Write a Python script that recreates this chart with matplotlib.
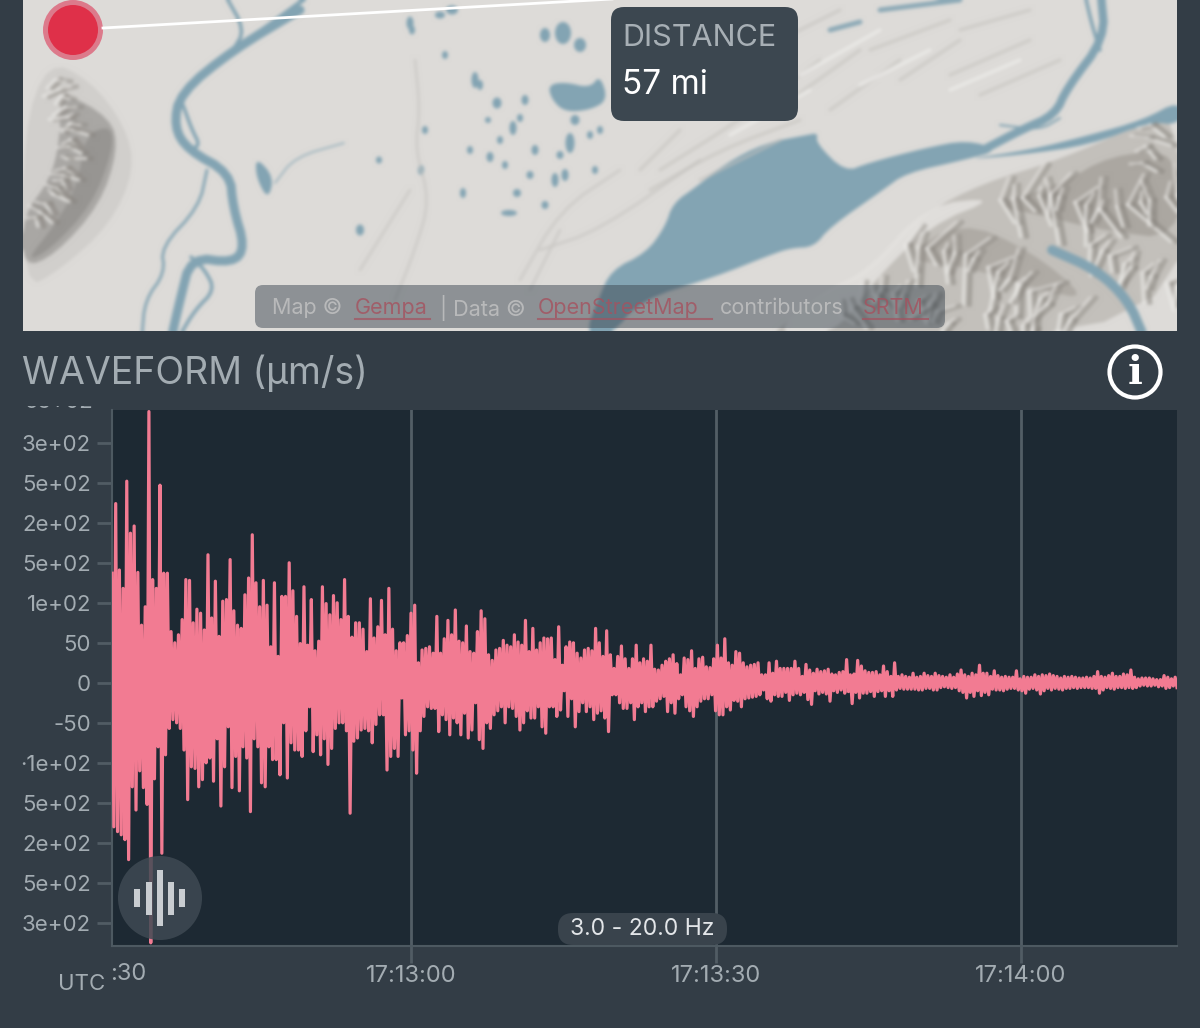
import matplotlib
matplotlib.use("Agg")
import matplotlib.pyplot as plt
import numpy as np
from matplotlib.patches import Circle, FancyBboxPatch, Polygon, Rectangle, Ellipse

plt.rcParams['font.family'] = ['Inter', 'DejaVu Sans']

# waveform, upper and lower swings in um/s, read left to right off the picture
peaks = [137,224,141,118,252,187,196,138,72,95,339,129,118,247,137,137,64,50,60,79,
         129,128,75,92,87,66,160,81,127,58,102,104,154,90,72,68,110,131,185,125,
         95,128,97,45,125,33,108,108,150,115,83,49,120,47,104,40,52,120,99,85,
         109,100,79,129,83,57,75,75,67,39,105,56,70,103,60,118,67,40,50,50,
         59,87,97,25,
         41,43,45,37,83,37,55,78,60,91,52,50,71,39,37,64,90,80,35,28,
         41,43,53,47,45,60,51,47,78,39,68,41,50,56,55,56,29,70,22,45,
         51,50,37,31,41,43,40,68,50,33,65,35,18,33,46,30,18,30,47,25,
         30,27,47,17,16,22,27,30,35,24,10,31,29,40,18,30,32,20,19,30,
         47,31,55,25,22,39,37,25,20,22,23,25,10,10,25,12,27,18,18,18,
         18,27,18,
         8,23,16,12,17,14,15,17,11,10,13,14,29,10,11,28,21,15,13,13,
         14,10,21,14,8,25,8,10,8,7,12,7,8,12,9,8,12,9,8,7,
         10,7,11,16,10,8,12,10,22,12,12,8,15,9,7,8,7,7,15,5,
         8,7,7,10,8,10,9,11,9,8,6,8,7,8,7,6,6,7,6,8,
         14,8,7,9,12,8,8,11,10,16,7,5,6,6,6,5,4,4,9,7,
         5,7]
troughs = [-180,-186,-190,-196,-221,-130,-159,-110,-131,-152,-325,-120,-80,-213,-90,-57,-46,-50,-57,-84,
           -146,-105,-107,-130,-121,-100,-94,-123,-70,-154,-105,-55,-131,-92,-135,-80,-94,-161,-70,-80,
           -125,-130,-80,-96,-96,-115,-50,-119,-75,-84,-84,-92,-60,-30,-86,-65,-90,-70,-102,-82,
           -57,-50,-50,-60,-163,-73,-69,-59,-57,-60,-75,-52,-40,-40,-109,-92,-82,-92,-19,-65,
           -60,-84,-113,-60,
           -42,-30,-32,-32,-61,-40,-46,-65,-44,-50,-65,-38,-69,-59,-25,-71,-82,-50,-57,-40,
           -35,-30,-50,-30,-32,-42,-59,-50,-35,-44,-44,-30,-55,-63,-30,-30,-42,-34,-10,-42,
           -20,-55,-36,-25,-36,-30,-46,-38,-35,-44,-61,-15,-15,-25,-32,-32,-25,-46,-30,-25,
           -36,-30,-30,-23,-20,-17,-36,-25,-38,-20,-15,-30,-35,-42,-30,-23,-20,-20,-15,-35,
           -40,-40,-30,-34,-22,-23,-30,-20,-19,-18,-17,-15,-9,-20,-23,-15,-17,-17,-12,-22,
           -15,-13,-15,
           -12,-21,-27,-10,-14,-12,-14,-23,-10,-12,-9,-13,-11,-26,-12,-19,-13,-13,-11,-17,
           -11,-10,-17,-10,-17,-9,-7,-8,-8,-8,-8,-9,-9,-7,-7,-9,-9,-6,-5,-6,
           -7,-6,-10,-12,-19,-12,-17,-10,-16,-12,-15,-8,-9,-9,-10,-8,-7,-7,-9,-10,
           -13,-8,-7,-9,-14,-10,-7,-9,-7,-8,-9,-7,-7,-6,-7,-6,-6,-6,-7,-7,
           -13,-9,-6,-7,-8,-6,-6,-7,-6,-7,-6,-4,-3,-4,-4,-3,-5,-4,-7,-6,
           -4,-6]

y_ticks = [300, 250, 200, 150, 100, 50, 0, -50, -100, -150, -200, -250, -300]
y_labels = ['3e+02', '5e+02', '2e+02', '5e+02', '1e+02', '50', '0', '-50', '·1e+02',
            '5e+02', '2e+02', '5e+02', '3e+02']
x_ticks = [30, 60, 90]   # seconds after 17:12:30
x_labels = ['17:13:00', '17:13:30', '17:14:00']

page = '#333d46'
plot_bg = '#1d2933'
pink = '#f27b92'
label_col = '#a3acb2'
water = '#83a4b3'
land = '#dddbd8'

# the map backdrop is drawn apart, softened, and pasted in as an image
map_fig = plt.figure(figsize=(11.54, 3.31), dpi=100, facecolor=land)
mp = map_fig.add_axes([0, 0, 1, 1])
mp.set_xlim(23, 1177)
mp.set_ylim(331, 0)
mp.axis('off')

def smooth(pts, closed=False, rounds=2):
    pts = np.array(pts, dtype=float)
    for _ in range(rounds):
        nxt = np.roll(pts, -1, axis=0) if closed else pts[1:]
        cur = pts if closed else pts[:-1]
        q = 0.75 * cur + 0.25 * nxt
        r = 0.25 * cur + 0.75 * nxt
        mid = np.empty((2 * len(cur), 2))
        mid[0::2] = q
        mid[1::2] = r
        pts = mid if closed else np.vstack([pts[0], mid, pts[-1]])
    return pts

def shape(pts, col, alpha=1.0):
    mp.add_patch(Polygon(smooth(pts, closed=True), closed=True, fc=col, ec='none', alpha=alpha))

def stroke(pts, col, lw, alpha=1.0):
    s = smooth(pts)
    mp.plot(s[:, 0], s[:, 1], color=col, lw=lw, alpha=alpha, solid_capstyle='round')

# uneven light and shaded spurs along a ridge line, for the hill shading
def ridge(pts, reach=(24, 38, 14, 30, 20, 44, 12), step=(13, 9, 17, 11), lean=(0.5, 0.1, 0.8, 0.3, -0.2)):
    pts = np.array(pts, dtype=float)
    k = 0
    for a, b in zip(pts[:-1], pts[1:]):
        seg = np.hypot(*(b - a))
        tang = (b - a) / seg
        norm = np.array([-tang[1], tang[0]])
        if norm[1] < 0:
            norm = -norm
        d = 0
        while d < seg:
            p = a + tang * d
            r = reach[k % len(reach)]
            r2 = reach[(k + 3) % len(reach)] * 0.7
            le = lean[k % len(lean)]
            q0 = p + norm * r + tang * r * le
            q1 = p - norm * r2 + tang * r2 * le
            mp.plot([p[0] + 6, q0[0] + 6], [p[1], q0[1]], color='#8a8680', lw=3.6, alpha=0.55)
            mp.plot([p[0], q0[0]], [p[1], q0[1]], color='#ecebe8', lw=2.4, alpha=0.7)
            mp.plot([p[0] + 6, q1[0] + 6], [p[1], q1[1]], color='#8f8b85', lw=3.2, alpha=0.5)
            mp.plot([p[0], q1[0]], [p[1], q1[1]], color='#e8e6e3', lw=2, alpha=0.6)
            d += step[k % len(step)]
            k += 1

# left mountain
shape([(48,60),(90,80),(125,125),(135,170),(110,225),(60,270),(23,290),(23,130)], '#d0cecb', 0.9)
shape([(60,90),(111,118),(118,150),(100,205),(55,255),(23,268),(23,215),(50,180),(60,140)], '#a9a7a4')
ridge([(55,80),(72,130),(62,180),(30,225)], reach=(10, 16, 7, 13, 18), step=(10, 7, 12))
shape([(85,135),(111,125),(113,150),(92,205),(50,250),(25,262),(55,225),(78,185)], '#94928f', 0.85)

# faint hills and streaks on the flats
for r in [[(415,60),(420,110),(415,150),(430,200),(415,250),(395,300)], [(620,170),(560,210),(520,280)], [(700,160),(600,230),(540,250)],
          [(560,230),(530,290)], [(360,270),(410,190)]]:
    stroke(r, '#c9c7c3', 2, 0.7)
for r in [[(800,120),(720,150),(650,190)], [(820,60),(740,120),(660,170)], [(860,50),(790,100)], [(900,60),(830,110)],
          [(950,20),(870,50)], [(1030,40),(950,75)], [(1060,60),(980,95)], [(960,40),(900,80)], [(1030,10),(960,30)],
          [(780,140),(700,180)], [(840,10),(760,50)], [(680,130),(640,170)]]:
    stroke(r, '#c4c2be', 2.5, 0.55)
for r in [[(810,90),(730,135)], [(930,50),(860,85)], [(1020,60),(950,90)], [(880,30),(800,75)]]:
    stroke(r, '#f0efed', 2.5, 0.7)

# right mountains
shape([(775,331),(830,290),(868,277),(925,213),(983,183),(1059,160),(1151,120),(1180,125),(1180,335),(775,335)], '#c3c0bb')
shape([(990,205),(1060,185),(1110,155),(1180,150),(1180,240),(1100,230),(1040,215)], '#a5a19b', 0.8)
shape([(900,260),(960,220),(1030,250),(1090,300),(1040,290),(960,265)], '#aaa6a0', 0.8)
ridge([(1000,200),(1050,195),(1100,210),(1177,195)])
ridge([(1150,125),(1140,170)], reach=(16, 24, 12))
ridge([(905,245),(965,255),(1020,285),(1075,325)])
ridge([(840,315),(880,290),(930,305),(955,331)], reach=(14, 24, 10, 18))
ridge([(1090,245),(1130,268),(1177,288)], reach=(18, 26, 12, 22))
ridge([(985,315),(1040,331)], reach=(12, 20, 9))
shape([(925,205),(868,270),(825,290),(770,335),(835,335),(870,285),(930,225),(1000,197)], '#e4e2df', 0.9)
stroke([(1052,250),(1097,270),(1128,300),(1143,335)], water, 7)

# lake and channels
shape([(807,135),(765,143),(726,163),(696,187),(673,203),(665,227),(646,253),(611,270),(598,300),(585,335),(612,335),
       (640,300),(715,277),(770,255),(791,248),(814,247),(830,227),(883,190),(906,173),(964,160),(1000,150),
       (967,140),(925,148),(868,163),(845,172),(816,143),(818,133)], water)
shape([(960,160),(1030,150),(1090,135),(1143,120),(1180,100),(1180,125),(1150,122),(1090,145),(1020,155)], water)
stroke([(1101,-5),(1105,38),(1067,88),(1055,115),(1021,130),(983,150)], water, 6)
stroke([(1085,-5),(1092,25),(1100,50)], water, 2.5)
stroke([(1000,125),(1040,130),(1060,118)], water, 1.5)

# left river
stroke([(300,10),(233,50),(180,93),(174,127),(188,150),(230,173),(233,207),(245,247),(233,263),(191,257),(180,300),(172,335)], water, 6.5)
stroke([(310,-5),(262,30),(233,50)], water, 3)
stroke([(225,-5),(245,30),(233,50)], water, 2.5)
stroke([(207,170),(199,207),(161,247),(165,273),(145,300),(142,335)], water, 2)
stroke([(183,105),(192,130),(200,145),(190,150)], water, 2.5)
stroke([(191,257),(205,270),(215,290),(195,310),(180,335)], water, 2.5)
stroke([(275,183),(295,157),(344,143)], water, 1.3, 0.7)
shape([(256,157),(274,177),(268,200),(256,177)], water)
shape([(548,85),(565,82),(590,88),(600,75),(608,100),(590,110),(565,112),(552,100)], water)

# ponds in the wetland
ponds_x = [410,412,475,497,513,563,570,490,555,517,463,421,452,360,509,379,425,480,525,545,535,500,565,575,470,590,580,440,
           505,545,520,488,560,595,445,600,530]
ponds_y = [23,30,80,103,128,33,143,157,180,193,193,170,10,230,213,160,130,85,100,35,150,140,175,120,150,135,45,15,
           165,205,118,120,155,170,55,130,175]
ponds_w = [7,6,7,9,7,16,9,7,7,8,6,6,12,8,16,6,6,6,7,10,7,6,7,9,6,6,12,10,6,7,6,6,7,6,6,6,7]
ponds_h = [13,9,16,11,14,22,20,10,14,8,10,10,9,11,6,7,8,10,10,14,10,8,12,10,8,8,14,7,8,8,8,6,8,8,8,8,8]
for px, py, pw, ph in zip(ponds_x, ponds_y, ponds_w, ponds_h):
    mp.add_patch(Ellipse((px, py), pw, ph, fc=water, ec='none'))
stroke([(830,30),(860,22)], water, 3.5, 0.9)
stroke([(880,10),(960,0)], water, 3.5, 0.9)

map_fig.canvas.draw()
map_img = np.asarray(map_fig.canvas.buffer_rgba())[:, :, :3].astype(float)
plt.close(map_fig)
pad = 5
soft = np.pad(map_img, ((pad, pad), (pad, pad), (0, 0)), mode='edge')
for _ in range(4):
    soft = (soft + np.roll(soft, 1, axis=0) + np.roll(soft, -1, axis=0)) / 3
    soft = (soft + np.roll(soft, 1, axis=1) + np.roll(soft, -1, axis=1)) / 3
map_img = soft[pad:-pad, pad:-pad].astype(np.uint8)

fig = plt.figure(figsize=(12, 10.28), dpi=100, facecolor=page)

# whole figure in pixels for the map and the decorations
bg = fig.add_axes([0, 0, 1, 1], zorder=0)
bg.imshow(map_img, extent=(23, 1177, 331, 0), aspect='auto', interpolation='bilinear')
bg.set_xlim(0, 1200)
bg.set_ylim(1028, 0)
bg.axis('off')

# station line and marker
bg.plot([103, 612], [28, -1], color='white', lw=2)
bg.add_patch(Circle((73, 30), 30, fc='#dc7a8b', ec='none'))
bg.add_patch(Circle((73, 30), 25, fc='#df3049', ec='none'))

# distance box
bg.add_patch(FancyBboxPatch((611, 7), 187, 114, boxstyle='round,pad=0,rounding_size=13', fc='#3c4750', ec='none', zorder=3))
bg.text(622, 38, 'DISTANCE', color='#a7afb5', fontsize=22, va='center', ha='left', zorder=4)
bg.text(622, 85, '57 mi', color='white', fontsize=24, va='center', ha='left', zorder=4)

# attribution
bg.add_patch(FancyBboxPatch((255, 285), 690, 43, boxstyle='round,pad=0,rounding_size=8', fc='#3e4953', ec='none', alpha=0.5, zorder=3))
att_text = ['Map ©', 'Gempa', '| Data ©', 'OpenStreetMap', 'contributors', 'SRTM']
att_x = [272, 355, 440, 538, 720, 863]
att_w = [0, 75, 0, 174, 0, 65]
att_col = ['#c4c4c4', '#a5525f', '#c4c4c4', '#a5525f', '#c4c4c4', '#a5525f']
for s, tx, w, c in zip(att_text, att_x, att_w, att_col):
    bg.text(tx, 308, s, color=c, fontsize=15.5, va='center', ha='left', alpha=0.8, zorder=4)
    if w:
        bg.plot([tx, tx + w], [319, 319], color=c, lw=1.5, alpha=0.7, zorder=4)

# header
bg.text(22, 373, 'WAVEFORM (µm/s)', color=label_col, fontsize=27, va='center', ha='left')
bg.add_patch(Circle((1135, 372), 25.5, fc='none', ec='white', lw=3))
bg.text(1135, 373, 'i', color='white', fontsize=28, fontweight='bold', family='DejaVu Serif', va='center', ha='center')

# labels around the plot that the axes cannot give
top_lab = bg.text(93, 402, '5e+02', color=label_col, fontsize=16, va='center', ha='right', clip_on=True)
top_lab.set_clip_path(Rectangle((0, 406), 110, 20, transform=bg.transData))
bg.text(128, 974, ':30', color=label_col, fontsize=17, va='center', ha='center')
bg.text(82, 984, 'UTC', color=label_col, fontsize=16, va='center', ha='center')

# waveform
ax = fig.add_axes([112 / 1200, (1028 - 946) / 1028, 1065 / 1200, 536 / 1028], zorder=1)
ax.set_facecolor(plot_bg)
n = min(len(peaks), len(troughs))
wave = np.zeros(2 * n)
wave[0::2] = peaks[:n]
wave[1::2] = troughs[:n]
t = np.linspace(0.5, 105.4, 2 * n)
ax.plot(t, wave, color=pink, lw=2.3, solid_joinstyle='round', zorder=3)
ax.set_xlim(0.5, 105.4)
ax.set_ylim(-329, 341)
ax.set_yticks(y_ticks)
ax.set_yticklabels(y_labels)
ax.set_xticks(x_ticks)
ax.set_xticklabels(x_labels)
ax.grid(axis='x', color='#59646c', lw=2, zorder=4, alpha=0.9)
ax.tick_params(axis='y', length=11, width=2, color='#515c64', labelcolor=label_col, labelsize=16, pad=4)
ax.tick_params(axis='x', length=12, width=2, color='#515c64', labelcolor=label_col, labelsize=17, pad=2)
for side in ['top', 'right']:
    ax.spines[side].set_visible(False)
for side in ['left', 'bottom']:
    ax.spines[side].set_color('#4d5961')
    ax.spines[side].set_linewidth(1.5)

# audio button and filter pill on top of the plot
top = fig.add_axes([0, 0, 1, 1], zorder=2)
top.set_xlim(0, 1200)
top.set_ylim(1028, 0)
top.axis('off')
top.patch.set_alpha(0)
top.add_patch(Circle((160, 898), 42, fc='#3f4a53', ec='none', alpha=0.85))
bar_x = [134, 146, 157, 168, 179]
bar_top = [889, 882, 870, 882, 889]
bar_bot = [907, 915, 926, 915, 907]
for bx, b0, b1 in zip(bar_x, bar_top, bar_bot):
    top.add_patch(Rectangle((bx, b0), 6, b1 - b0, fc='#c9cdd1', ec='none'))
top.add_patch(FancyBboxPatch((558, 913), 169, 32, boxstyle='round,pad=0,rounding_size=15', fc='#39434c', ec='none'))
top.text(642.5, 929, '3.0 - 20.0 Hz', color='#e2e5e8', fontsize=16.5, va='center', ha='center')

fig.savefig('out.png', dpi=100, facecolor=page)
